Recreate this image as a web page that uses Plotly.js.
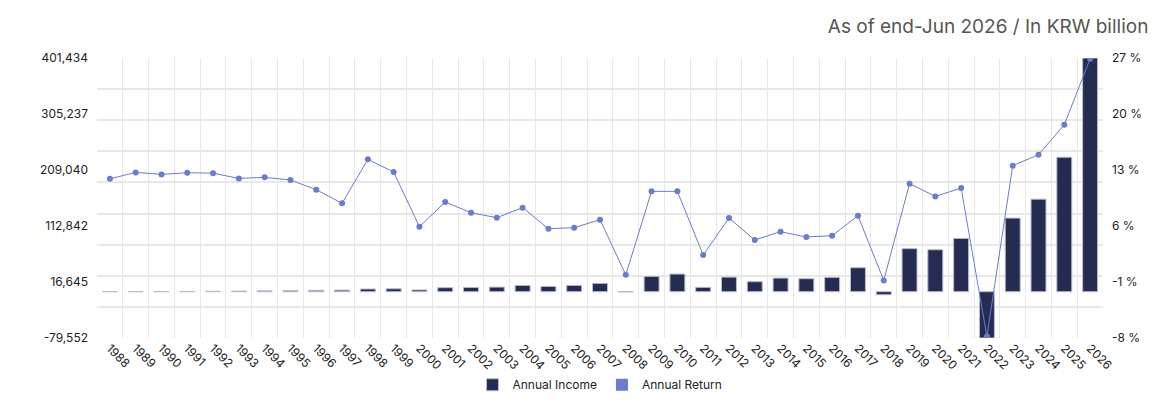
<!DOCTYPE html>
<html>
<head>
<meta charset="utf-8">
<script src="https://cdn.plot.ly/plotly-3.0.1.min.js"></script>
<style>
  html, body { margin: 0; padding: 0; background: #fff; }
  #chart { width: 1160px; height: 405px; }
</style>
</head>
<body>
<div id="chart"></div>
<script>
// ─── Data ──────────────────────────────────────────────────────────
const years = ['1988', '1989', '1990', '1991', '1992', '1993', '1994', '1995', '1996', '1997',
               '1998', '1999', '2000', '2001', '2002', '2003', '2004', '2005', '2006', '2007',
               '2008', '2009', '2010', '2011', '2012', '2013', '2014', '2015', '2016', '2017',
               '2018', '2019', '2020', '2021', '2022', '2023', '2024', '2025', '2026'];

// Annual income, KRW billion
const annualIncome = [60, 150, 300, 450, 700, 1000, 1400, 1800, 2300, 2700,
                      4600, 5000, 3000, 6900, 7400, 7900, 10800, 9100, 10800, 14300,
                      -400, 26300, 30300, 7500, 25100, 17200, 23400, 22300, 24600, 41200,
                      -5200, 73900, 72100, 91600, -79552, 126400, 159000, 231000, 401434];

// Annual return, %
const annualReturn = [11.9, 12.7, 12.45, 12.66, 12.6, 11.95, 12.08, 11.75, 10.54, 8.83,
                      14.33, 12.75, 5.9, 9.0, 7.66, 7.04, 8.29, 5.66, 5.79, 6.79,
                      -0.1, 10.33, 10.33, 2.37, 7.0, 4.25, 5.29, 4.63, 4.79, 7.29,
                      -0.8, 11.29, 9.7, 10.74, -7.8, 13.54, 14.91, 18.66, 26.9];

const incomeTicks      = [-79552, 16645, 112842, 209040, 305237, 401434];
const incomeTickLabels = ['-79,552', '16,645', '112,842', '209,040', '305,237', '401,434'];
const returnTicks      = [-8, -1, 6, 13, 20, 27];
const returnTickLabels = ['-8 %', '-1 %', '6 %', '13 %', '20 %', '27 %'];

// ─── Style ─────────────────────────────────────────────────────────
const NAVY  = '#252c52';
const LAVA  = '#6c7ccd';
const GRID  = '#e8e8e8';
const FONT  = 'Inter, "Noto Sans", sans-serif';

const data = [
    { x: years, y: annualIncome, name: 'Annual Income', type: 'bar',
      marker: { color: NAVY, line: { color: '#b8bccb', width: 1 } },
      xaxis: 'x', yaxis: 'y', hoverinfo: 'x+y' },
    { x: years, y: annualReturn, name: 'Annual Return', type: 'scatter', mode: 'lines+markers',
      line: { color: LAVA, width: 1 }, marker: { color: LAVA, size: 6 },
      xaxis: 'x', yaxis: 'y2', showlegend: false },
    // zero-height bar: square legend swatch for the return line + carrier of the grid axis
    { x: [years[0]], y: [0], name: 'Annual Return', type: 'bar',
      marker: { color: LAVA, line: { width: 0 } }, xaxis: 'x', yaxis: 'y3', hoverinfo: 'skip' }
];

const layout = {
    width: 1160, height: 405,
    margin: { l: 97, r: 57, t: 58, b: 67 },
    paper_bgcolor: '#fff', plot_bgcolor: '#fff',
    font: { family: FONT, size: 12, color: '#222' },
    barmode: 'overlay',
    bargap: 0.42,
    title: { text: 'As of end-Jun 2026 / In KRW billion',
             xref: 'container', x: 0.99, xanchor: 'right',
             yref: 'container', y: 0.935, yanchor: 'middle',
             font: { family: FONT, size: 19, color: '#555' } },
    xaxis: { type: 'category', range: [-0.5, years.length - 0.5], tickangle: 45,
             tickson: 'boundaries', automargin: false,
             showgrid: true, gridcolor: GRID, gridwidth: 1,
             ticks: '', showline: false, zeroline: false,
             tickfont: { size: 12, color: '#222' } },
    yaxis: { range: [incomeTicks[0], incomeTicks[incomeTicks.length - 1]],
             tickmode: 'array', tickvals: incomeTicks, ticktext: incomeTickLabels,
             showgrid: false, zeroline: false, showline: false, ticks: '', automargin: false,
             ticklabelstandoff: 8, tickfont: { size: 12, color: '#222' } },
    yaxis2: { range: [returnTicks[0], returnTicks[returnTicks.length - 1]],
              tickmode: 'array', tickvals: returnTicks, ticktext: returnTickLabels,
              overlaying: 'y', side: 'right', anchor: 'x', automargin: false,
              showgrid: false, zeroline: false, showline: false, ticks: '',
              ticklabelstandoff: 8, tickfont: { size: 12, color: '#222' } },
    yaxis3: { range: [0, 9], dtick: 1, tick0: 0, overlaying: 'y', anchor: 'x',
              showgrid: true, gridcolor: GRID, gridwidth: 2, automargin: false,
              showticklabels: false, zeroline: false, showline: false, ticks: '' },
    legend: { orientation: 'h', x: 0.5, xanchor: 'center', xref: 'paper',
              y: 0.05, yanchor: 'middle', yref: 'container',
              font: { size: 12, color: '#222' }, traceorder: 'normal' },
    showlegend: true
};

Plotly.newPlot('chart', data, layout, { displayModeBar: false, staticPlot: true });
</script>
</body>
</html>
